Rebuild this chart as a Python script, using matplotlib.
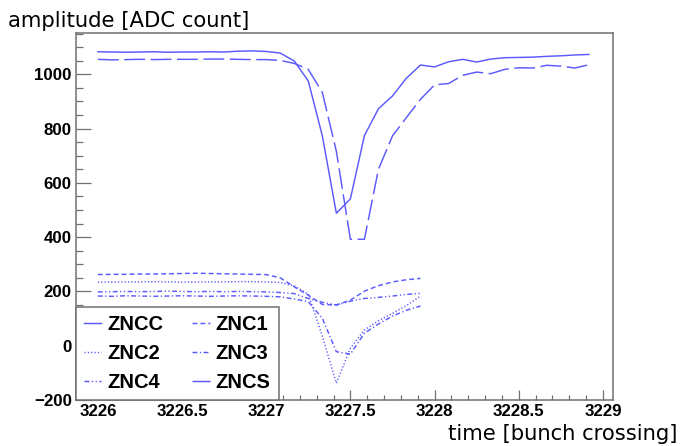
import numpy as np
import matplotlib
matplotlib.use("Agg")
import matplotlib.pyplot as plt
from matplotlib.ticker import MultipleLocator

plt.rcParams['lines.scale_dashes'] = False

# sample index (1/12 bunch crossing steps) starting at bunch crossing 3226
start_bc = 3226
samples_per_bc = 12
n_long = 36
n_short = 24

zncc = [1083, 1082, 1081, 1082, 1083, 1081, 1082, 1082, 1083, 1082, 1085, 1086, 1084,
        1078, 1049, 975, 773, 488, 541, 774, 873, 920, 986, 1034, 1027, 1046, 1055,
        1045, 1056, 1061, 1062, 1063, 1066, 1068, 1071, 1073]
zncs = [1055, 1053, 1054, 1055, 1054, 1055, 1055, 1055, 1056, 1056, 1055, 1054, 1054,
        1051, 1040, 1018, 933, 716, 392, 392, 650, 773, 841, 908, 961, 966, 996,
        1008, 1002, 1018, 1024, 1023, 1033, 1030, 1023, 1035]
znc1 = [262, 263, 263, 264, 264, 265, 266, 267, 266, 265, 264, 263, 262,
        250, 217, 186, 152, 150, 168, 201, 221, 235, 243, 248]
znc2 = [234, 235, 235, 235, 236, 235, 234, 235, 235, 235, 236, 236, 235,
        233, 220, 190, 35, -138, -9, 58, 92, 119, 148, 183]
znc3 = [183, 182, 184, 183, 182, 183, 184, 183, 182, 183, 184, 183, 182,
        180, 172, 162, 101, -22, -31, 46, 80, 109, 131, 146]
znc4 = [198, 199, 200, 199, 200, 201, 200, 199, 200, 199, 200, 199, 198,
        196, 192, 174, 160, 150, 164, 174, 178, 183, 189, 193]

t_long = start_bc + np.arange(n_long) / samples_per_bc
t_short = start_bc + np.arange(n_short) / samples_per_bc

W, H = 681, 446
fig = plt.figure(figsize=(W / 100, H / 100), dpi=100)
ax = fig.add_axes([76 / W, (H - 400) / H, 537 / W, 367 / H])

col = '#5a5aff'
lw = 1.05
l_cc, = ax.plot(t_long, zncc, color=col, lw=lw, ls='-', label='ZNCC')
l_1, = ax.plot(t_short, znc1, color=col, lw=lw, ls=(0, (3.5, 2.2)), label='ZNC1')
l_2, = ax.plot(t_short, znc2, color=col, lw=lw, ls=(0, (0.9, 1.5)), label='ZNC2')
l_3, = ax.plot(t_short, znc3, color=col, lw=lw, ls=(0, (3.5, 1.8, 0.9, 1.8)), label='ZNC3')
l_4, = ax.plot(t_short, znc4, color=col, lw=lw, ls=(0, (3.5, 1.8, 0.9, 1.8, 0.9, 1.8)), label='ZNC4')
l_s, = ax.plot(t_long, zncs, color=col, lw=lw, ls=(0, (15, 4)), label='ZNCS')

ax.set_xlim(3225.87, 3229.06)
ax.set_ylim(-200, 1152)

ax.xaxis.set_major_locator(MultipleLocator(0.5))
ax.xaxis.set_minor_locator(MultipleLocator(0.1))
ax.yaxis.set_major_locator(MultipleLocator(200))
ax.yaxis.set_minor_locator(MultipleLocator(50))
ax.xaxis.set_major_formatter(plt.FuncFormatter(lambda v, p: f"{v:g}"))

frame_col = '#707070'
for s in ax.spines.values():
    s.set_color(frame_col)
    s.set_linewidth(1.1)

ax.tick_params(axis='x', which='major', direction='in', length=7.2, width=0.9,
               color=frame_col, pad=3, top=False)
ax.tick_params(axis='x', which='minor', direction='in', length=3.6, width=0.9,
               color=frame_col, top=False)
ax.tick_params(axis='y', which='major', direction='in', length=10.5, width=0.9,
               color=frame_col, pad=3, right=False)
ax.tick_params(axis='y', which='minor', direction='in', length=4.8, width=0.9,
               color=frame_col, right=False)
for lab in ax.get_xticklabels() + ax.get_yticklabels():
    lab.set_fontfamily('Liberation Sans')
    lab.set_fontweight('bold')
    lab.set_fontsize(12.2)

leg = ax.legend(handles=[l_cc, l_2, l_4, l_1, l_3, l_s], ncol=2, loc='lower left',
                bbox_to_anchor=(0, 0), borderaxespad=0, frameon=True, fancybox=False,
                prop={'family': 'Liberation Sans', 'weight': 'bold', 'size': 14.5},
                handlelength=0.85, handletextpad=0.3, columnspacing=1.45,
                labelspacing=0.5, borderpad=0.4)
leg.get_frame().set_edgecolor(frame_col)
leg.get_frame().set_linewidth(1.1)
leg.get_frame().set_alpha(1)

fig.text(8 / W, 1 - 27 / H, 'amplitude [ADC count]', fontfamily='DejaVu Sans',
         fontsize=15.2, ha='left', va='baseline')
fig.text(678 / W, 6 / H, 'time [bunch crossing]', fontfamily='DejaVu Sans',
         fontsize=15.2, ha='right', va='baseline')

fig.savefig('out.png', dpi=100)
